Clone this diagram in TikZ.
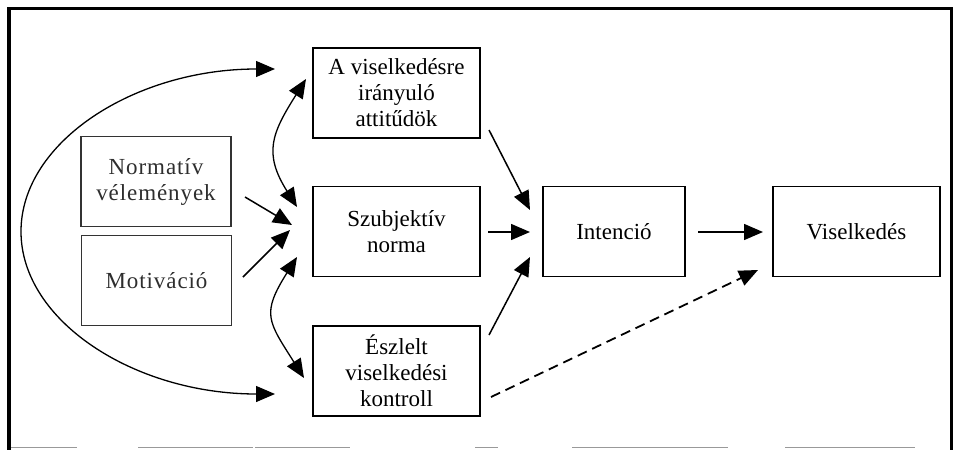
\documentclass[tikz,border=0pt]{standalone}
\usepackage{fontspec}
\setmainfont{Liberation Serif}
\newfontfamily\trackedserif[LetterSpace=4]{Liberation Serif}
\usetikzlibrary{arrows.meta}

\begin{document}
\begin{tikzpicture}[x=1pt, y=-1pt,
  box/.style={draw, line width=1.8pt, minimum width=167pt, minimum height=90pt,
    inner sep=0pt, align=center, font=\fontsize{23}{26}\selectfont},
  softbox/.style={box, draw=black!80, line width=1.3pt, minimum width=150pt,
    text=black!82, font=\trackedserif\fontsize{23}{26}\selectfont},
  tip/.tip={Triangle[length=19pt, width=16pt]},
  link/.style={line width=1.5pt, -tip},
  twoway/.style={line width=1.3pt, tip-tip},
  maybe/.style={link, line width=1.8pt, dash pattern=on 10pt off 6pt}]

  \useasboundingbox (0,0) rectangle (955,450);

  % outer frame
  \draw[line width=3pt] (7,8.5) -- (953,8.5);
  \draw[line width=4pt] (9,7) -- (9,450);
  \draw[line width=3pt] (951.5,7) -- (951.5,450);
  \draw[black!40, line width=1.2pt]
    (11,447.5) -- (77,447.5) (138,447.5) -- (253,447.5) (255,447.5) -- (350,447.5)
    (475,447.5) -- (498,447.5) (572,447.5) -- (728,447.5) (785,447.5) -- (915,447.5);

  % boxes
  \node[box] (att)  at (396.5,93)    {A viselkedésre\\irányuló\\attitűdök};
  \node[box] (szub) at (396.5,231.5) {Szubjektív\\norma};
  \node[box] (esz)  at (396.5,371)   {Észlelt\\viselkedési\\kontroll};
  \node[box, minimum width=142pt] (int) at (614,231.5) {Intenció};
  \node[box] (vis)  at (856.5,231.5) {Viselkedés};
  \node[softbox] (norm)  at (156,181.5) {Normatív\\vélemények};
  \node[softbox] (motiv) at (156.5,280.5) {Motiváció};

  % connector end points
  \coordinate (bigtop) at (275,69);
  \coordinate (bigleft) at (21,231.5);
  \coordinate (bigbot) at (275,394);
  \coordinate (ua) at (306,79);
  \coordinate (ub) at (297,207);
  \coordinate (la) at (297,257);
  \coordinate (lb) at (304,378);
  \coordinate (n1) at (245,197);
  \coordinate (n2) at (292,225);
  \coordinate (m1) at (243,277);
  \coordinate (m2) at (290,230);
  \coordinate (a1) at (489,130);
  \coordinate (a2) at (530,210);
  \coordinate (s1) at (488,232);
  \coordinate (s2) at (530,232);
  \coordinate (e1) at (489,335);
  \coordinate (e2) at (530,257);
  \coordinate (i1) at (698,232);
  \coordinate (i2) at (763,232);
  \coordinate (x1) at (491,397);
  \coordinate (x2) at (758,270);

  % correlations
  \draw[twoway] (bigtop) .. controls (134.7,69) and (21,141.8) .. (bigleft)
                         .. controls (21,321.2) and (134.7,394) .. (bigbot);
  \draw[twoway] (ua) .. controls (272,133) and (263,153) .. (ub);
  \draw[twoway] (la) .. controls (261,314) and (268,321) .. (lb);

  % effects
  \draw[link] (n1) -- (n2);
  \draw[link] (m1) -- (m2);
  \draw[link] (a1) -- (a2);
  \draw[link] (s1) -- (s2);
  \draw[link] (e1) -- (e2);
  \draw[link] (i1) -- (i2);
  \draw[maybe] (x1) -- (x2);
\end{tikzpicture}
\end{document}
